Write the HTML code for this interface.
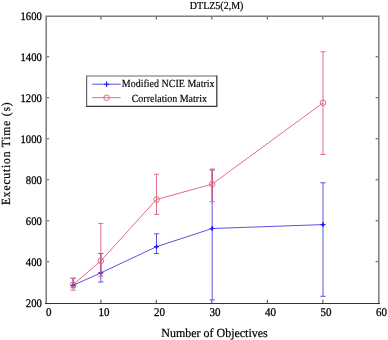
<!DOCTYPE html>
<html><head><meta charset="utf-8"><style>
html,body{margin:0;padding:0;background:#fff;width:388px;height:340px;overflow:hidden}
svg{display:block;will-change:transform}
text{font-family:"Liberation Serif",serif;fill:#000;stroke:#000;stroke-width:0.08px;text-rendering:geometricPrecision}
</style></head><body>
<svg width="388" height="340" viewBox="0 0 388 340">
<rect x="0" y="0" width="388" height="340" fill="#fff"/>

<path d="M46.2 15.6V304M45.5 16.3H379.5M378.8 15.6V304" stroke="#7c7c7c" stroke-width="1.5" fill="none"/>
<path d="M45 303.5H380" stroke="#333" stroke-width="1.2" fill="none"/>
<path d="M100.9 303V299.7M100.9 17V19.6M156.3 303V299.7M156.3 17V19.6M211.8 303V299.7M211.8 17V19.6M267.3 303V299.7M267.3 17V19.6M322.8 303V299.7M322.8 17V19.6M47 261.8H49.2M378 261.8H375.6M47 220.8H49.2M378 220.8H375.6M47 179.8H49.2M378 179.8H375.6M47 138.7H49.2M378 138.7H375.6M47 97.7H49.2M378 97.7H375.6M47 56.7H49.2M378 56.7H375.6" stroke="#555" stroke-width="1.1" fill="none"/>
<text transform="translate(48.65 315.9) scale(1 1.07)" font-size="11" style="stroke-width:0.25px" text-anchor="middle">0</text>
<text transform="translate(104.12 315.9) scale(1 1.07)" font-size="11" style="stroke-width:0.25px" text-anchor="middle">10</text>
<text transform="translate(159.60 315.9) scale(1 1.07)" font-size="11" style="stroke-width:0.25px" text-anchor="middle">20</text>
<text transform="translate(215.08 315.9) scale(1 1.07)" font-size="11" style="stroke-width:0.25px" text-anchor="middle">30</text>
<text transform="translate(270.55 315.9) scale(1 1.07)" font-size="11" style="stroke-width:0.25px" text-anchor="middle">40</text>
<text transform="translate(326.02 315.9) scale(1 1.07)" font-size="11" style="stroke-width:0.25px" text-anchor="middle">50</text>
<text transform="translate(381.50 315.9) scale(1 1.07)" font-size="11" style="stroke-width:0.25px" text-anchor="middle">60</text>
<text transform="translate(41.8 307.30) scale(0.97 1.05)" font-size="11" style="stroke-width:0.25px" text-anchor="end">200</text>
<text transform="translate(41.8 266.29) scale(0.97 1.05)" font-size="11" style="stroke-width:0.25px" text-anchor="end">400</text>
<text transform="translate(41.8 225.27) scale(0.97 1.05)" font-size="11" style="stroke-width:0.25px" text-anchor="end">600</text>
<text transform="translate(41.8 184.26) scale(0.97 1.05)" font-size="11" style="stroke-width:0.25px" text-anchor="end">800</text>
<text transform="translate(41.8 143.24) scale(0.97 1.05)" font-size="11" style="stroke-width:0.25px" text-anchor="end">1000</text>
<text transform="translate(41.8 102.23) scale(0.97 1.05)" font-size="11" style="stroke-width:0.25px" text-anchor="end">1200</text>
<text transform="translate(41.8 61.22) scale(0.97 1.05)" font-size="11" style="stroke-width:0.25px" text-anchor="end">1400</text>
<text transform="translate(41.8 20.20) scale(0.97 1.05)" font-size="11" style="stroke-width:0.25px" text-anchor="end">1600</text>
<text transform="translate(216.6 8.9) scale(1 1.07)" font-size="10" text-anchor="middle" style="stroke-width:0.2px">DTLZ5(2,M)</text>
<text x="214.5" y="336.7" font-size="12.4" text-anchor="middle" textLength="106.5" lengthAdjust="spacingAndGlyphs" style="stroke-width:0.22px">Number of Objectives</text>
<text transform="translate(9.8 153.7) rotate(-90) scale(0.93 1)" x="0" y="0" font-size="12.4" text-anchor="middle" textLength="110.5" lengthAdjust="spacing" style="stroke-width:0.22px">Execution Time (s)</text>
<polyline points="73.2,285.3 100.8,272.9 156.5,246.7 212.2,228.5 323.0,224.6" fill="none" stroke="#5a56da" stroke-width="1"/>
<path d="M73.2 278.2V287.8M70.6 278.2H75.8M70.6 287.8H75.8M100.8 253.5V282.0M98.2 253.5H103.4M98.2 282.0H103.4M156.5 233.8V253.5M153.9 233.8H159.1M153.9 253.5H159.1M212.2 169.2V299.9M209.6 169.2H214.8M209.6 299.9H214.8M323.0 182.8V296.3M320.4 182.8H325.6M320.4 296.3H325.6" stroke="#5a56da" stroke-width="1" fill="none"/>
<path d="M70.7 285.3H75.7M73.2 282.8V287.8" stroke="#1818e8" stroke-width="1.2"/>
<circle cx="73.2" cy="285.3" r="1.2" fill="#1818e8"/>
<path d="M98.3 272.9H103.3M100.8 270.4V275.4" stroke="#1818e8" stroke-width="1.2"/>
<circle cx="100.8" cy="272.9" r="1.2" fill="#1818e8"/>
<path d="M154.0 246.7H159.0M156.5 244.2V249.2" stroke="#1818e8" stroke-width="1.2"/>
<circle cx="156.5" cy="246.7" r="1.2" fill="#1818e8"/>
<path d="M209.7 228.5H214.7M212.2 226.0V231.0" stroke="#1818e8" stroke-width="1.2"/>
<circle cx="212.2" cy="228.5" r="1.2" fill="#1818e8"/>
<path d="M320.5 224.6H325.5M323.0 222.1V227.1" stroke="#1818e8" stroke-width="1.2"/>
<circle cx="323.0" cy="224.6" r="1.2" fill="#1818e8"/>
<polyline points="73.2,284.6 100.8,260.9 156.5,199.5 212.2,184.1 323.0,102.8" fill="none" stroke="#e06c86" stroke-width="1"/>
<path d="M73.2 278.4V290.2M70.6 278.4H75.8M70.6 290.2H75.8M100.8 223.4V276.2M98.2 223.4H103.4M98.2 276.2H103.4M156.5 174.2V214.4M153.9 174.2H159.1M153.9 214.4H159.1M212.2 170.2V201.6M209.6 170.2H214.8M209.6 201.6H214.8M323.0 51.8V154.5M320.4 51.8H325.6M320.4 154.5H325.6" stroke="#e06c86" stroke-width="1" fill="none"/>
<path d="M73.2 278.9V287.3M100.8 254.0V275.7M212.2 170.7V201.1" stroke="#b84890" stroke-width="1" fill="none"/>
<circle cx="73.2" cy="284.6" r="2.8" fill="none" stroke="#e06c86" stroke-width="1"/>
<circle cx="100.8" cy="260.9" r="2.8" fill="none" stroke="#e06c86" stroke-width="1"/>
<circle cx="156.5" cy="199.5" r="2.8" fill="none" stroke="#e06c86" stroke-width="1"/>
<circle cx="212.2" cy="184.1" r="2.8" fill="none" stroke="#e06c86" stroke-width="1"/>
<circle cx="323.0" cy="102.8" r="2.8" fill="none" stroke="#e06c86" stroke-width="1"/>
<rect x="86.6" y="76" width="130.2" height="30.3" fill="#fff"/>
<path d="M86.6 106.3V76H216.8" stroke="#686868" stroke-width="1.2" fill="none"/>
<path d="M86 106.3H216.8V75.4" stroke="#3c3c3c" stroke-width="1.3" fill="none"/>
<path d="M92 84.2H120.8" stroke="#5a56da" stroke-width="1"/>
<path d="M103.8 84.2H109.4M106.6 81.4V87" stroke="#1818e8" stroke-width="1.1"/>
<path d="M92 97.7H120.8" stroke="#e06c86" stroke-width="1"/>
<circle cx="106.6" cy="97.8" r="2.8" fill="none" stroke="#e06c86" stroke-width="1"/>
<text transform="translate(168.2 87.4) scale(1 1.08)" font-size="10" text-anchor="middle" textLength="92.8" lengthAdjust="spacingAndGlyphs" style="stroke-width:0.14px">Modified NCIE Matrix</text>
<text transform="translate(169.3 101.9) scale(1 1.08)" font-size="10" text-anchor="middle" textLength="75.3" lengthAdjust="spacingAndGlyphs" style="stroke-width:0.14px">Correlation Matrix</text>
</svg>
</body></html>
